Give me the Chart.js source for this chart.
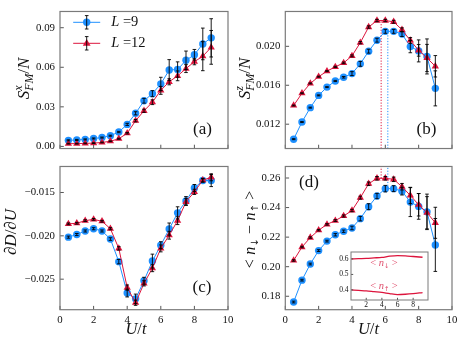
<!DOCTYPE html>
<html>
<head>
<meta charset="utf-8">
<script src="https://cdn.jsdelivr.net/npm/chart.js@4.4.0/dist/chart.umd.min.js"></script>
<style>
  body { margin: 0; background: #fff; }
  #wrap { position: relative; width: 463px; height: 346px; overflow: hidden; }
  canvas { position: absolute; }
</style>
</head>
<body>
<div id="wrap">
  <canvas id="cA" width="240" height="160" style="left:0;top:0"></canvas>
  <canvas id="cB" width="232" height="160" style="left:231px;top:0"></canvas>
  <canvas id="cC" width="240" height="191" style="left:0;top:155px"></canvas>
  <canvas id="cD" width="232" height="191" style="left:231px;top:155px"></canvas>
  <canvas id="cI" width="105" height="70" style="left:330px;top:245px"></canvas>
</div>
<script>
// U/t grid
const U = [0.5, 1, 1.5, 2, 2.5, 3, 3.5, 4, 4.5, 5, 5.5, 6, 6.5, 7, 7.5, 8, 8.5, 9];

// (a) S^x_FM / N
const sxL9  = [0.0046, 0.0049, 0.0053, 0.0060, 0.0067, 0.0081, 0.0109, 0.0167, 0.0251, 0.0346, 0.0400, 0.0474, 0.0579, 0.0583, 0.0653, 0.0695, 0.0777, 0.0823];
const sxL12 = [0.0021, 0.0021, 0.0023, 0.0025, 0.0030, 0.0039, 0.0058, 0.0100, 0.0195, 0.0270, 0.0335, 0.0425, 0.0490, 0.0535, 0.0590, 0.0642, 0.0684, 0.0751];
const sxErr9  = [0.0004, 0.0004, 0.0004, 0.0004, 0.0004, 0.0004, 0.0005, 0.0008, 0.0012, 0.0018, 0.0023, 0.005, 0.0079, 0.0058, 0.007, 0.004, 0.012, 0.0145];
const sxErr12 = [0.0003, 0.0003, 0.0003, 0.0003, 0.0003, 0.0003, 0.0004, 0.0006, 0.0009, 0.0012, 0.0018, 0.003, 0.0023, 0.0037, 0.003, 0.0023, 0.011, 0.0128];

// (b) S^z_FM / N
const szL9  = [0.01046, 0.01222, 0.0137, 0.01496, 0.01581, 0.01644, 0.01682, 0.0172, 0.0182, 0.0195, 0.02063, 0.02154, 0.02154, 0.02126, 0.01997, 0.01953, 0.01896, 0.01568];
const szL12 = [0.01392, 0.01518, 0.01619, 0.01688, 0.01745, 0.01789, 0.0183, 0.01902, 0.02038, 0.02198, 0.02265, 0.02265, 0.02252, 0.0217, 0.0206, 0.01959, 0.0188, 0.01795];
const szErr9  = [0.00005, 0.00005, 0.00005, 0.00005, 0.00005, 0.00006, 0.00008, 0.0002, 0.00025, 0.0002, 0.0002, 0.0002, 0.0002, 0.00025, 0.00063, 0.00113, 0.0018, 0.0018];
const szErr12 = [0.00005, 0.00005, 0.00005, 0.00005, 0.00005, 0.00006, 0.00008, 0.0001, 0.00012, 0.00012, 0.00012, 0.00012, 0.00015, 0.0002, 0.0003, 0.0006, 0.0014, 0.0011];

// (c) dD/dU
const ddL9  = [-0.02015, -0.01985, -0.01944, -0.01918, -0.01944, -0.02037, -0.02298, -0.0266, -0.02727, -0.02518, -0.02291, -0.02108, -0.01922, -0.01735, -0.01597, -0.01448, -0.01362, -0.01362];
const ddL12 = [-0.01862, -0.01855, -0.01825, -0.0181, -0.01832, -0.01918, -0.02145, -0.02597, -0.02772, -0.02548, -0.02373, -0.02145, -0.01993, -0.01825, -0.01608, -0.01493, -0.01358, -0.01325];
const ddErr9  = [0.00012, 0.00012, 0.00012, 0.00012, 0.00012, 0.00015, 0.00025, 0.00045, 0.00055, 0.0004, 0.0008, 0.0004, 0.0007, 0.0007, 0.0005, 0.0004, 0.0002, 0.0007];
const ddErr12 = [0.0001, 0.0001, 0.0001, 0.0001, 0.0001, 0.00012, 0.0002, 0.0003, 0.0003, 0.0003, 0.0004, 0.0004, 0.00045, 0.00045, 0.0004, 0.0003, 0.0002, 0.0004];

// (d) <n_down - n_up>
const dnL9  = [0.1761, 0.1909, 0.2018, 0.2109, 0.2173, 0.2216, 0.224, 0.2262, 0.2325, 0.2406, 0.2478, 0.2528, 0.2528, 0.2511, 0.2437, 0.2408, 0.2371, 0.2147];
const dnL12 = [0.2042, 0.2133, 0.2197, 0.2247, 0.2286, 0.2312, 0.2343, 0.238, 0.2467, 0.2561, 0.2598, 0.2598, 0.2591, 0.2541, 0.2482, 0.2419, 0.2365, 0.2297];
const dnErr9  = [0.0006, 0.0006, 0.0006, 0.0006, 0.0006, 0.0008, 0.0008, 0.0012, 0.0015, 0.002, 0.0018, 0.0022, 0.002, 0.0026, 0.0098, 0.0087, 0.012, 0.0179];
const dnErr12 = [0.0005, 0.0005, 0.0005, 0.0005, 0.0005, 0.0006, 0.0007, 0.0008, 0.001, 0.0012, 0.0012, 0.0012, 0.0015, 0.0022, 0.0055, 0.0076, 0.0109, 0.0105];

// peak positions (dotted lines)
const peakU9 = 6.15, peakU12 = 5.75;
const peakB9 = 0.0216, peakB12 = 0.0227;
const peakD9 = 0.2528, peakD12 = 0.2598;

// inset: <n_down>, <n_up>
const insetU = [0.1, 1, 2, 3, 4, 5, 6, 7, 8, 9.2];
const nDown = [0.600, 0.602, 0.604, 0.607, 0.610, 0.618, 0.622, 0.620, 0.616, 0.611];
const nUp   = [0.400, 0.397, 0.394, 0.389, 0.384, 0.376, 0.370, 0.372, 0.376, 0.383];

// tick labels
const xTicks = [0, 2, 4, 6, 8, 10];
const yTicksA = [0, 0.03, 0.06, 0.09];
const yTicksB = [0.012, 0.016, 0.020];
const yTicksC = [-0.025, -0.020, -0.015];
const yTicksD = [0.18, 0.20, 0.22, 0.24, 0.26];
const xTicksIn = [2, 4, 6, 8];
const yTicksIn = [0.4, 0.5, 0.6];

const BLUE = '#1e90ff', RED = '#dc143c';
const FONT = '"Liberation Serif", "DejaVu Serif", serif';
const ARROW_FONT = '"DejaVu Sans", sans-serif';

// draws a piece of math-ish text (italic, sub/sup) centered or left aligned
function mathText(ctx, parts, x, y, size, o) {
    o = o || {};
    ctx.save();
    ctx.translate(x, y);
    if (o.rot) ctx.rotate(o.rot);
    ctx.fillStyle = o.color || '#111';
    ctx.textBaseline = 'middle';
    ctx.textAlign = 'left';
    const fnt = p => (p.it ? 'italic ' : '') + (size * (p.sc || 1)) + 'px ' + (p.arrow ? ARROW_FONT : FONT);
    const w = parts.map(p => {
        ctx.font = fnt(p);
        const t = p.stack ? Math.max(...p.stack.map(s => ctx.measureText(s).width)) : ctx.measureText(p.t).width;
        return t + (p.gap || 0) * 2;
    });
    let cx = o.align === 'left' ? 0 : -w.reduce((a, b) => a + b, 0) / 2;
    parts.forEach((p, i) => {
        ctx.font = fnt(p);
        const px = cx + (p.gap || 0);
        if (p.stack) {
            ctx.fillText(p.stack[0], px, -size * 0.36);
            ctx.fillText(p.stack[1], px, size * 0.3);
        } else {
            ctx.fillText(p.t, px, (p.dy || 0) * size);
        }
        cx += w[i];
    });
    ctx.restore();
}

function dotted(chart, u, y0, y1, color) {
    const { ctx, chartArea: a, scales } = chart;
    const px = scales.x.getPixelForValue(u);
    const p0 = y0 === null ? a.bottom : scales.y.getPixelForValue(y0);
    const p1 = y1 === null ? a.top : scales.y.getPixelForValue(y1);
    ctx.save();
    ctx.strokeStyle = color;
    ctx.lineWidth = 1;
    ctx.setLineDash([1.2, 1.6]);
    ctx.beginPath();
    ctx.moveTo(px, p0);
    ctx.lineTo(px, p1);
    ctx.stroke();
    ctx.restore();
}

function legendEntry(ctx, x, y, color, marker, label) {
    ctx.save();
    ctx.strokeStyle = color;
    ctx.lineWidth = 1;
    ctx.beginPath();
    ctx.moveTo(x - 13.5, y);
    ctx.lineTo(x + 13.5, y);
    ctx.stroke();
    ctx.fillStyle = color;
    ctx.beginPath();
    if (marker === 'circle') {
        ctx.arc(x, y, 3.7, 0, Math.PI * 2);
    } else {
        ctx.moveTo(x, y - 4.2);
        ctx.lineTo(x + 3.9, y + 2.4);
        ctx.lineTo(x - 3.9, y + 2.4);
        ctx.closePath();
    }
    ctx.fill();
    ctx.strokeStyle = '#000';
    ctx.lineWidth = 0.9;
    ctx.beginPath();
    ctx.moveTo(x, y - 6.7); ctx.lineTo(x, y + 6.7);
    ctx.moveTo(x - 1.8, y - 6.7); ctx.lineTo(x + 1.8, y - 6.7);
    ctx.moveTo(x - 1.8, y + 6.7); ctx.lineTo(x + 1.8, y + 6.7);
    ctx.stroke();
    ctx.restore();
    mathText(ctx, [{ t: 'L', it: 1 }, { t: ' =' + label }], x + 24.5, y, 14.5, { align: 'left' });
}

function panel(id, cfg) {
    const decor = {
        id: 'decor',
        beforeDraw(chart) {
            if (!cfg.fill) return;
            const { ctx, chartArea: a } = chart;
            ctx.save();
            ctx.fillStyle = '#fff';
            ctx.fillRect(a.left, a.top, a.right - a.left, a.bottom - a.top);
            ctx.restore();
        },
        beforeDatasetsDraw(chart) {
            if (cfg.under) cfg.under(chart);
        },
        afterDatasetsDraw(chart) {
            const { ctx, scales } = chart;
            ctx.save();
            ctx.strokeStyle = '#000';
            ctx.lineWidth = 0.9;
            chart.data.datasets.forEach(ds => {
                if (!ds.errs) return;
                ds.data.forEach((p, i) => {
                    const px = scales.x.getPixelForValue(p.x);
                    const y1 = scales.y.getPixelForValue(p.y - ds.errs[i]);
                    const y2 = scales.y.getPixelForValue(p.y + ds.errs[i]);
                    ctx.beginPath();
                    ctx.moveTo(px, y1); ctx.lineTo(px, y2);
                    ctx.moveTo(px - 1.8, y1); ctx.lineTo(px + 1.8, y1);
                    ctx.moveTo(px - 1.8, y2); ctx.lineTo(px + 1.8, y2);
                    ctx.stroke();
                });
            });
            ctx.restore();
        },
        afterDraw(chart) {
            const { ctx, chartArea: a, scales } = chart;
            const tl = cfg.tickLen || 3.8;
            ctx.save();
            ctx.strokeStyle = '#444';
            ctx.lineWidth = 0.9;
            ctx.beginPath();
            cfg.xt.forEach(v => {
                const px = scales.x.getPixelForValue(v);
                ctx.moveTo(px, a.bottom); ctx.lineTo(px, a.bottom - tl);
            });
            cfg.yt.forEach(v => {
                const py = scales.y.getPixelForValue(v);
                ctx.moveTo(a.left, py); ctx.lineTo(a.left + tl, py);
            });
            ctx.stroke();
            ctx.strokeStyle = '#7a7a7a';
            ctx.lineWidth = cfg.frameW || 1.2;
            ctx.strokeRect(a.left, a.top, a.right - a.left, a.bottom - a.top);
            ctx.restore();
            (cfg.texts || []).forEach(t => mathText(ctx, t.parts, t.x, t.y, t.size, t));
            if (cfg.over) cfg.over(chart);
        }
    };

    new Chart(document.getElementById(id), {
        type: 'line',
        data: {
            datasets: cfg.series.map(s => ({
                data: s.x.map((u, i) => ({ x: u, y: s.y[i] })),
                borderColor: s.color,
                backgroundColor: s.color,
                borderWidth: s.lw || 1,
                pointStyle: s.marker || false,
                pointRadius: s.r || 0,
                pointBorderWidth: 0,
                pointBackgroundColor: s.color,
                cubicInterpolationMode: s.smooth ? 'monotone' : 'default',
                errs: s.err,
                order: s.order || 0
            }))
        },
        options: {
            responsive: false,
            animation: false,
            events: [],
            layout: { padding: { left: 0, top: cfg.top, right: cfg.right, bottom: 0 } },
            plugins: { legend: { display: false }, tooltip: { enabled: false } },
            scales: {
                x: {
                    type: 'linear', min: cfg.xMin, max: cfg.xMax,
                    grid: { display: false, drawTicks: false },
                    border: { display: false },
                    ticks: {
                        display: cfg.showX, padding: cfg.xPad || 3.5, autoSkip: false, maxRotation: 0,
                        color: '#111', font: { family: FONT, size: cfg.fs || 10.8 },
                        callback: v => String(v)
                    },
                    afterBuildTicks: s => { s.ticks = cfg.xt.map(v => ({ value: v })); },
                    afterFit: s => { s.height = cfg.xh; }
                },
                y: {
                    min: cfg.yMin, max: cfg.yMax,
                    grid: { display: false, drawTicks: false },
                    border: { display: false },
                    ticks: {
                        padding: cfg.yPad || 5, autoSkip: false,
                        color: '#111', font: { family: FONT, size: cfg.fs || 10.8 },
                        callback: v => v.toFixed(cfg.dec).replace('-', '\u2212')
                    },
                    afterBuildTicks: s => { s.ticks = cfg.yt.map(v => ({ value: v })); },
                    afterFit: s => { s.width = cfg.yw; }
                }
            }
        },
        plugins: [decor]
    });
}

function mainSeries(y9, e9, y12, e12) {
    return [
        { x: U, y: y9, err: e9, color: BLUE, marker: 'circle', r: 3.7, order: 1 },
        { x: U, y: y12, err: e12, color: RED, marker: 'triangle', r: 4.2, order: 0 }
    ];
}

const ROT = -Math.PI / 2;
const titleUt = [{ t: 'U', it: 1 }, { t: '/' }, { t: 't', it: 1 }];
const down = { t: '\u2193', arrow: 1, sc: 0.62, dy: 0.28 };
const up = { t: '\u2191', arrow: 1, sc: 0.62, dy: 0.28 };

document.addEventListener("DOMContentLoaded", function () {
    // (a)
    panel('cA', {
        series: mainSeries(sxL9, sxErr9, sxL12, sxErr12),
        xMin: 0, xMax: 10, yMin: -0.0016, yMax: 0.1023,
        xt: xTicks, yt: yTicksA, dec: 2, showX: false,
        top: 4.7, right: 12, yw: 60, xh: 7,
        texts: [
            { parts: [{ t: 'S', it: 1 }, { stack: ['x', 'FM'], it: 1, sc: 0.7 }, { t: '/' }, { t: 'N', it: 1 }], x: 25, y: 78.5, size: 17, rot: ROT },
            { parts: [{ t: '(a)' }], x: 202.5, y: 130, size: 17 }
        ],
        over: chart => {
            legendEntry(chart.ctx, 86.7, 22.3, BLUE, 'circle', '9');
            legendEntry(chart.ctx, 86.7, 43.3, RED, 'triangle', '12');
        }
    });

    // (b)
    panel('cB', {
        series: mainSeries(szL9, szErr9, szL12, szErr12),
        xMin: 0, xMax: 10, yMin: 0.0095, yMax: 0.02358,
        xt: xTicks, yt: yTicksB, dec: 3, showX: false,
        top: 4.7, right: 11, yw: 54.3, xh: 7,
        under: chart => {
            dotted(chart, peakU12, null, peakB12, RED);
            dotted(chart, peakU9, null, peakB9, BLUE);
        },
        texts: [
            { parts: [{ t: 'S', it: 1 }, { stack: ['z', 'FM'], it: 1, sc: 0.7 }, { t: '/' }, { t: 'N', it: 1 }], x: 14.5, y: 78.5, size: 17, rot: ROT },
            { parts: [{ t: '(b)' }], x: 195.5, y: 130, size: 17 }
        ]
    });

    // (c)
    panel('cC', {
        series: mainSeries(ddL9, ddErr9, ddL12, ddErr12),
        xMin: 0, xMax: 10, yMin: -0.02852, yMax: -0.0120,
        xt: xTicks, yt: yTicksC, dec: 3, showX: true,
        top: 6, right: 12, yw: 60, xh: 36.3,
        texts: [
            { parts: [{ t: '\u2202' }, { t: 'D', it: 1 }, { t: '/' }, { t: '\u2202' }, { t: 'U', it: 1 }], x: 11.5, y: 77, size: 17, rot: ROT },
            { parts: [{ t: '(c)' }], x: 202, y: 133, size: 17 },
            { parts: titleUt, x: 136, y: 175, size: 16.5 }
        ]
    });

    // (d)
    panel('cD', {
        series: mainSeries(dnL9, dnErr9, dnL12, dnErr12),
        xMin: 0, xMax: 10, yMin: 0.1709, yMax: 0.2678,
        xt: xTicks, yt: yTicksD, dec: 2, showX: true,
        top: 6, right: 11, yw: 54.3, xh: 36.3,
        under: chart => {
            dotted(chart, peakU12, peakD12, null, RED);
            dotted(chart, peakU9, peakD9, null, BLUE);
        },
        texts: [
            { parts: [{ t: '<', gap: 4.5 }, { t: 'n', it: 1 }, down, { t: '\u2212', gap: 4.5 }, { t: 'n', it: 1 }, up, { t: '>', gap: 4.5 }], x: 20, y: 74.5, size: 16, rot: ROT },
            { parts: [{ t: '(d)' }], x: 78, y: 28, size: 17 },
            { parts: titleUt, x: 137.5, y: 175, size: 16.5 }
        ]
    });

    // inset
    panel('cI', {
        series: [
            { x: insetU, y: nDown, color: RED, lw: 1.3, smooth: true },
            { x: insetU, y: nUp, color: RED, lw: 1.3, smooth: true }
        ],
        xMin: 0.05, xMax: 9.9, yMin: 0.335, yMax: 0.645,
        xt: xTicksIn, yt: yTicksIn, dec: 1, showX: true, fill: true,
        top: 6, right: 7, yw: 21, xh: 15, fs: 7.5, xPad: 1, yPad: 2.5, tickLen: 2.2, frameW: 1,
        texts: [
            { parts: [{ t: '<', gap: 2.5 }, { t: 'n', it: 1 }, down, { t: '>', gap: 2.5 }], x: 54, y: 18, size: 10.5, color: '#e0506e' },
            { parts: [{ t: '<', gap: 2.5 }, { t: 'n', it: 1 }, up, { t: '>', gap: 2.5 }], x: 54, y: 41, size: 10.5, color: '#e0506e' }
        ]
    });
});
</script>
</body>
</html>
